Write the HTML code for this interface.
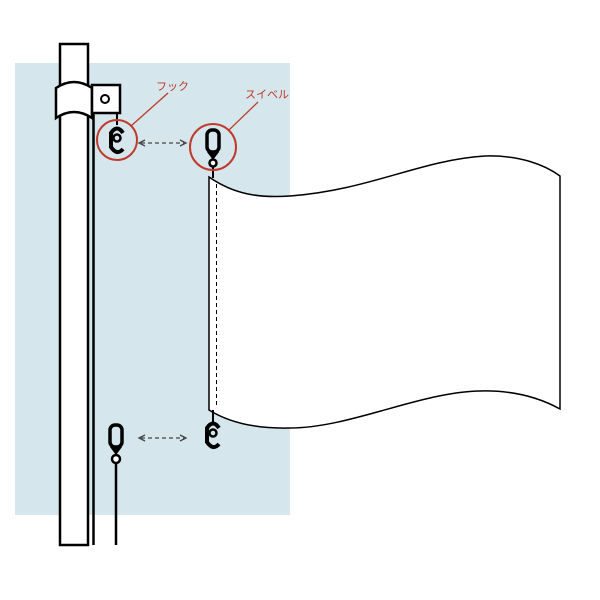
<!DOCTYPE html>
<html><head><meta charset="utf-8"><style>body{margin:0;background:#fff}svg{display:block}</style></head><body>
<svg width="600" height="600" viewBox="0 0 600 600" xmlns="http://www.w3.org/2000/svg">
<rect x="15" y="63" width="275" height="452" fill="#d5e6ec"/>
<!-- pole -->
<rect x="60" y="44" width="28" height="501" fill="#fff" stroke="#000" stroke-width="2.5"/>
<path d="M56,88 Q74,76 92,88 L92,118 Q74,106 56,118 Z" fill="#fff" stroke="#000" stroke-width="2.5"/>
<rect x="92" y="85" width="28" height="28" fill="#fff" stroke="#000" stroke-width="2.5"/>
<circle cx="105" cy="99" r="4" fill="none" stroke="#000" stroke-width="2"/>
<line x1="93.5" y1="114" x2="93.5" y2="545" stroke="#000" stroke-width="2.5"/>
<!-- top hook -->
<line x1="117" y1="113" x2="117" y2="125" stroke="#000" stroke-width="2"/>
<path d="M123,133 Q117,124 111,133 L111,147 Q117,156 123,149" fill="none" stroke="#000" stroke-width="4"/>
<circle cx="117" cy="138" r="3.5" fill="none" stroke="#000" stroke-width="2.5"/>
<circle cx="117" cy="140" r="20" fill="none" stroke="#c0392b" stroke-width="2"/>
<line x1="131" y1="126" x2="168" y2="93" stroke="#c0392b" stroke-width="1.3"/>
<text x="156" y="90" font-family="Liberation Sans, Noto Sans CJK JP, sans-serif" font-size="11" fill="#c0392b">フック</text>
<!-- arrows -->
<g stroke="#444" stroke-width="1.3" fill="none">
<line x1="141" y1="143" x2="184" y2="143" stroke-dasharray="4,3"/>
<path d="M145,140 L139,143 L145,146"/><path d="M180,140 L186,143 L180,146"/>
<line x1="141" y1="438" x2="184" y2="438" stroke-dasharray="4,3"/>
<path d="M145,435 L139,438 L145,441"/><path d="M180,435 L186,438 L180,441"/>
</g>
<!-- swivel top -->
<rect x="207" y="130" width="12" height="22" rx="5" fill="none" stroke="#000" stroke-width="3.5"/>
<path d="M207,152 L213,160 L219,152 Z" fill="#000"/>
<circle cx="213" cy="163" r="3.5" fill="#fff" stroke="#000" stroke-width="2.5"/>
<line x1="213" y1="167" x2="213" y2="178" stroke="#000" stroke-width="2"/>
<circle cx="213" cy="147" r="23" fill="none" stroke="#c0392b" stroke-width="2"/>
<line x1="229" y1="130" x2="258" y2="102" stroke="#c0392b" stroke-width="1.3"/>
<text x="245" y="98" font-family="Liberation Sans, Noto Sans CJK JP, sans-serif" font-size="11" fill="#c0392b">スイベル</text>
<!-- flag -->
<path d="M209,177 C235,195 260,198 290,196 C370,190 420,160 485,156 C520,155 545,165 560,176 L560,409 C540,398 515,390 480,391 C420,392 350,428 290,428 C250,429 225,420 209,410 Z" fill="#fff" stroke="#000" stroke-width="1.5"/>
<line x1="216.5" y1="184" x2="216.5" y2="405" stroke="#000" stroke-width="1" stroke-dasharray="4,3"/>
<!-- bottom hook on flag -->
<line x1="213" y1="410" x2="213" y2="422" stroke="#000" stroke-width="2"/>
<path d="M219,428 Q213,419 207,428 L207,442 Q213,451 219,444" fill="none" stroke="#000" stroke-width="4"/>
<circle cx="213" cy="433" r="3.5" fill="none" stroke="#000" stroke-width="2.5"/>
<!-- bottom swivel on rope -->
<rect x="110" y="425" width="12" height="22" rx="5" fill="none" stroke="#000" stroke-width="3.5"/>
<path d="M110,447 L116,455 L122,447 Z" fill="#000"/>
<circle cx="116" cy="459" r="4" fill="#fff" stroke="#000" stroke-width="2.5"/>
<line x1="116" y1="463" x2="116" y2="545" stroke="#000" stroke-width="2.5"/>
</svg>
</body></html>
